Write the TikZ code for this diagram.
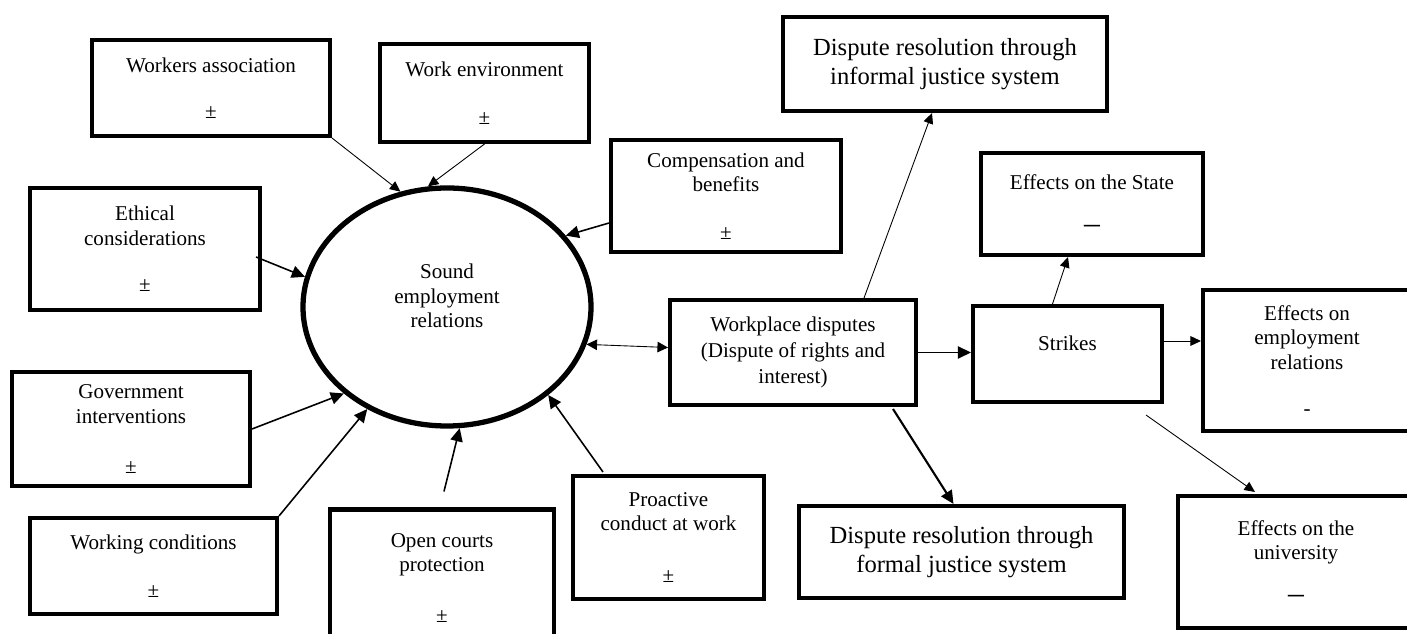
\documentclass[tikz,border=0pt]{standalone}
\usepackage{fontspec}
\setmainfont{Liberation Serif}
\usetikzlibrary{arrows.meta,shapes.geometric,calc}

\newcommand{\nrm}{\fontsize{12}{14}\selectfont}
\newcommand{\bigrm}{\fontsize{14}{16.8}\selectfont}
\newcommand{\dsh}{{\fontsize{18}{14}\selectfont –}}

\tikzset{
    factor/.style 2 args={draw, line width=2.3pt, minimum width=#1*0.02cm,
        minimum height=#2*0.02cm, inner sep=0pt, align=center, font=\nrm},
    arr/.style={-{Triangle[length=7.5pt,width=7pt]}, line width=0.9pt},
    tarr/.style={-{Triangle[length=6pt,width=5.5pt]}, line width=0.5pt},
    dbl/.style={{Triangle[length=6pt,width=6pt]}-{Triangle[length=6pt,width=6pt]}, line width=0.5pt}
}

\begin{document}
\begin{tikzpicture}[x=0.02cm, y=-0.02cm]
    \useasboundingbox (0,0) rectangle (1407,634);

    % Sound employment relations
    \node[draw, ellipse, line width=3pt, minimum width=288*0.02cm,
        minimum height=238*0.02cm, inner sep=0pt] (sound) at (447,307) {};
    \node[align=center, font=\nrm] (soundtxt) at (447,296) {Sound\\employment\\relations};

    % Factors round the ellipse
    \node[factor={238}{96}] (wa) at (211,88) {Workers association\\[12pt]±};
    \node[factor={209}{98}] (we) at (484.5,93) {Work environment\\[13pt]±};
    \node[factor={230}{112}] (cb) at (726,196) {Compensation and\\benefits\\[13pt]±};
    \node[factor={230}{122}] (ec) at (145,249) {Ethical\\considerations\\[12.5pt]±};
    \node[factor={238}{114}] (gi) at (131,429) {Government\\interventions\\[14.5pt]±};
    \node[factor={247}{96}] (wc) at (153.5,566) {Working conditions\\[13pt]±};
    \node[factor={224}{137}] (oc) at (442,578) {Open courts\\protection\\[15pt]±};
    \node[factor={191}{123}] (pc) at (668.5,537.5) {Proactive\\conduct at work\\[15.5pt]±};

    % Disputes and their effects
    \node[factor={246}{105}, font=\fontsize{12}{15}\selectfont] (wd) at (793,352.5)
        {Workplace disputes\\(Dispute of rights and\\interest)};
    \node[factor={324}{94}, font=\bigrm] (inf) at (945,64)
        {Dispute resolution through\\informal justice system};
    \node[factor={325}{92}, font=\bigrm] (fo) at (961.5,552)
        {Dispute resolution through\\formal justice system};
    \node[factor={189}{96}, text depth=12pt] (st) at (1067.5,354) {Strikes};
    \node[factor={222}{102}] (es) at (1092,204) {Effects on the State\\[11pt]\dsh};
    \node[factor={208}{141}] (em) at (1307,360.5) {Effects on\\employment\\relations\\[12.5pt]-};
    \node[factor={236}{132}] (eu) at (1296,562) {Effects on the\\university\\[11pt]\dsh};

    % Arrows into the ellipse
    \draw[tarr] (wa.south east) -- (sound.112);
    \draw[tarr] (we.south) -- (sound.99);
    \draw[arr] ($(cb.south west)+(0,-31)$) -- (sound.31);
    \draw[arr] ($(ec.east)+(-6,8)$) -- (sound.168);
    \draw[arr] (gi.east) -- (sound.220);
    \draw[arr] (wc.north east) -- (sound.232);
    \draw[arr] ($(oc.north)+(2,-16)$) -- (sound.276);
    \draw[arr] ($(pc.north west)+(32,-2)$) -- (sound.319);
    \draw[dbl] (sound.345) -- ($(wd.west)+(0,-5)$);

    % Arrows out of the disputes
    \draw[arr] (wd.east) -- (wd.east -| st.west);
    \draw[tarr] ($(wd.north east)+(-54,0)$) -- ($(inf.south)+(-13,0)$);
    \draw[arr, line width=1.2pt] ($(wd.south east)+(-25,2)$) -- ($(fo.north)+(-8,0)$);
    \draw[tarr] ($(st.north)+(-15,0)$) -- ($(es.south)+(-24,0)$);
    \coordinate (s1) at ($(st.east)+(0,-13)$);
    \draw[tarr] (s1) -- (s1 -| em.west);
    \draw[tarr] ($(st.south east)+(-18,11)$) -- ($(eu.north west)+(79,-2)$);
\end{tikzpicture}
\end{document}
